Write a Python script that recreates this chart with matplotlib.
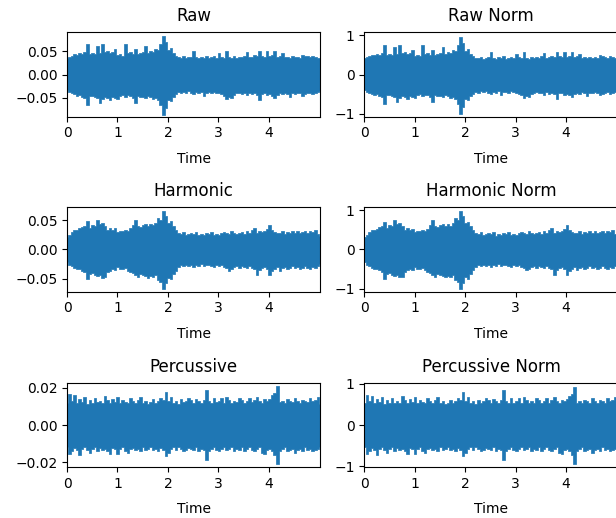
import numpy as np
import matplotlib
matplotlib.use("Agg")
from matplotlib import pyplot as plt

# Envelope of each waveform (max / min per 0.05 s).
# raw and harmonic in units of 1e-3, percussive in units of 1e-4
raw_upper = [36, 38, 40, 44, 42, 45, 43, 47, 65, 44,
             46, 43, 61, 45, 66, 48, 50, 45, 47, 55,
             41, 43, 40, 66, 45, 47, 44, 55, 43, 46,
             48, 60, 46, 50, 47, 55, 52, 65, 83, 70,
             52, 56, 45, 40, 37, 36, 39, 35, 37, 38,
             50, 37, 35, 38, 36, 40, 35, 37, 39, 36,
             45, 38, 36, 50, 37, 35, 39, 36, 38, 37,
             40, 48, 37, 38, 41, 39, 50, 40, 38, 50,
             39, 41, 50, 38, 40, 45, 37, 38, 36, 39,
             37, 38, 36, 42, 40, 39, 37, 40, 38, 36,
             35]
raw_lower = [34, 38, 40, 42, 45, 43, 47, 50, 66, 46,
             45, 48, 50, 60, 52, 47, 50, 55, 48, 50,
             52, 45, 43, 47, 44, 46, 50, 60, 45, 48,
             47, 50, 46, 48, 52, 50, 55, 65, 86, 72,
             55, 56, 48, 42, 38, 40, 37, 39, 36, 40,
             42, 38, 40, 37, 45, 39, 38, 40, 37, 39,
             40, 42, 45, 52, 48, 50, 43, 40, 39, 41,
             40, 44, 39, 42, 40, 43, 54, 41, 40, 44,
             42, 45, 50, 43, 40, 42, 39, 41, 47, 40,
             41, 39, 40, 45, 42, 40, 39, 42, 40, 38,
             36]
harm_upper = [22, 25, 30, 34, 33, 36, 38, 40, 48, 37,
              42, 40, 51, 44, 46, 40, 34, 37, 33, 36,
              30, 32, 31, 34, 32, 36, 42, 51, 40, 38,
              42, 44, 40, 43, 41, 45, 54, 50, 66, 58,
              46, 48, 40, 34, 28, 26, 30, 25, 27, 28,
              26, 30, 24, 27, 25, 28, 26, 30, 25, 27,
              25, 28, 30, 29, 27, 32, 28, 26, 29, 30,
              27, 31, 28, 33, 37, 29, 32, 30, 31, 35,
              42, 33, 30, 28, 29, 31, 27, 30, 28, 32,
              29, 31, 28, 30, 32, 29, 31, 30, 33, 26,
              23]
harm_lower = [22, 26, 28, 32, 34, 33, 36, 38, 50, 42,
              40, 43, 46, 44, 48, 47, 38, 36, 33, 35,
              30, 33, 34, 32, 36, 38, 40, 44, 47, 42,
              44, 46, 48, 45, 47, 43, 52, 55, 67, 58,
              48, 50, 42, 36, 30, 27, 29, 26, 28, 27,
              30, 26, 28, 25, 29, 27, 26, 28, 30, 27,
              29, 27, 30, 32, 36, 33, 30, 28, 31, 29,
              30, 32, 29, 31, 33, 44, 35, 31, 30, 33,
              44, 37, 34, 30, 36, 32, 30, 34, 31, 29,
              32, 30, 33, 31, 29, 32, 34, 30, 31, 28,
              25]
perc_upper = [120, 165, 130, 160, 118, 140, 125, 150, 115, 135,
              120, 145, 122, 130, 118, 155, 135, 120, 140, 125,
              150, 120, 135, 125, 118, 145, 128, 120, 135, 150,
              118, 128, 112, 122, 138, 118, 130, 145, 135, 178,
              128, 150, 120, 130, 115, 138, 122, 128, 145, 135,
              118, 142, 128, 120, 135, 188, 130, 118, 145, 122,
              128, 145, 120, 150, 135, 118, 130, 122, 145, 135,
              118, 130, 145, 122, 135, 150, 128, 120, 138, 128,
              142, 160, 170, 208, 122, 130, 118, 138, 128, 122,
              145, 128, 118, 135, 128, 122, 145, 128, 135, 150,
              115]
perc_lower = [118, 155, 140, 122, 135, 160, 128, 118, 135, 150,
              128, 118, 142, 122, 135, 128, 140, 155, 122, 130,
              155, 128, 120, 142, 150, 128, 122, 135, 128, 142,
              120, 135, 128, 118, 135, 128, 142, 122, 135, 168,
              150, 128, 120, 135, 118, 128, 142, 135, 122, 128,
              135, 120, 142, 128, 135, 188, 142, 128, 120, 135,
              142, 128, 120, 135, 128, 120, 142, 128, 135, 120,
              142, 128, 120, 135, 142, 128, 120, 150, 155, 135,
              128, 142, 160, 208, 142, 128, 120, 142, 135, 128,
              150, 135, 128, 142, 120, 135, 128, 142, 135, 128,
              120]

# peak of the normalised envelopes as drawn
norm_peaks = [1.0, 1.0, 0.93]
duration = 5.02

titles = ["Raw", "Harmonic", "Percussive"]
ylims = [0.09, 0.072, 0.0227]
yticks = [[-0.05, 0, 0.05], [-0.05, 0, 0.05], [-0.02, 0, 0.02]]
ylims_norm = [1.08, 1.08, 1.02]

envs = [(np.array(raw_upper) * 1e-3, -np.array(raw_lower) * 1e-3),
        (np.array(harm_upper) * 1e-3, -np.array(harm_lower) * 1e-3),
        (np.array(perc_upper) * 1e-4, -np.array(perc_lower) * 1e-4)]

fig = plt.figure(figsize=(6.16, 5.18), dpi=100)

# axes boxes (the right column runs off the edge of the image)
bottoms = [0.7747, 0.4369, 0.0979]
h = 0.1629
w = 0.4112
lefts = [0.1088, 0.5914]


def draw(ax, t, lo, up, lim, ticks, title):
    ax.fill_between(t, lo, up, step='mid', color='C0',
                    linewidth=0.5, edgecolor='C0')
    ax.set_xlim(0, duration)
    ax.set_ylim(-lim, lim)
    ax.set_yticks(ticks)
    ax.set_xticks([0, 1, 2, 3, 4])
    ax.set_xlabel("Time", labelpad=8)
    ax.set_title(title, pad=8)


for i in range(3):
    up, lo = envs[i]
    t = np.linspace(0, duration, len(up))

    # plain signal
    ax = fig.add_axes([lefts[0], bottoms[i], w, h])
    draw(ax, t, lo, up, ylims[i], yticks[i], titles[i])

    # normalised signal
    peak = max(np.abs(up).max(), np.abs(lo).max())
    ax = fig.add_axes([lefts[1], bottoms[i], w, h])
    draw(ax, t, lo / peak * norm_peaks[i], up / peak * norm_peaks[i],
         ylims_norm[i], [-1, 0, 1], titles[i] + " Norm")

plt.savefig("out.png", dpi=100)
